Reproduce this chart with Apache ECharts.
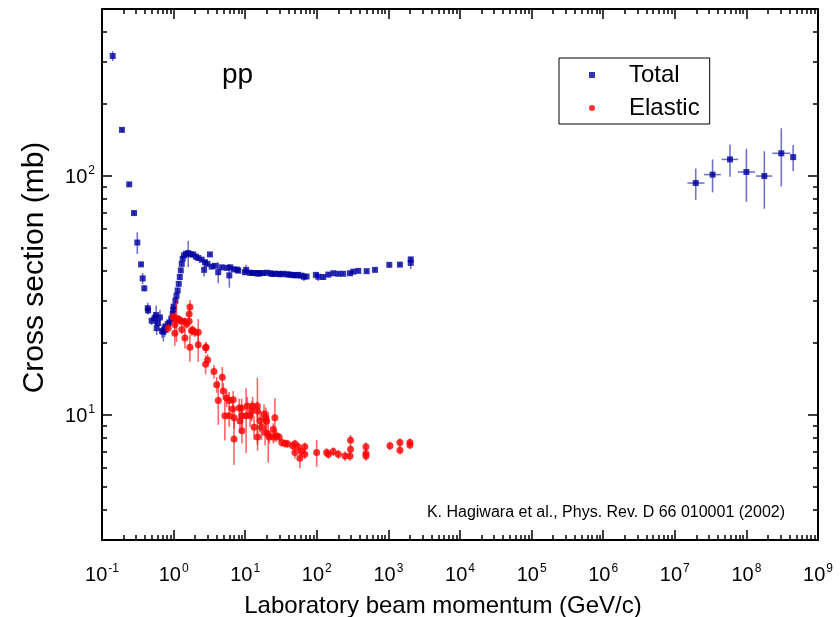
<!DOCTYPE html>
<html><head><meta charset="utf-8">
<script src="https://cdn.jsdelivr.net/npm/echarts@6/dist/echarts.min.js"></script>
<style>html,body{margin:0;padding:0;background:#fff}#c{width:840px;height:617px}</style>
</head><body><div id="c"></div>
<script>
const FONT = '"Liberation Sans", Arial, sans-serif';

// ---- Total cross section (accelerator data) ----
const totalP = [0.141,0.19,0.24,0.28,0.311,0.351,0.37,0.39,0.435,0.44,0.494,0.544,0.57,0.58,0.60,0.645,0.69,0.72,0.75,0.78,0.83,0.87,0.93,0.97,0.99,1.00,1.06,1.10,1.14,1.18,1.22,1.26,1.30,1.34,1.40,1.49,1.60,1.73,1.88,2.05,2.21,2.46,2.67,2.75,2.96,3.22,3.40,3.79,4.20,4.69,5.5,6.0,6.2,6.9,7.76,8.0,9.9,10.3,11.7,12.3,13.2,14.5,15.3,16.1,17.8,20,22.5,24,26,29,31,34,38,41,44.5,48,51,55,60,66,72,97,105,123,145,170,200,234,291,323,380,497,650,1030,1450,2050,2050];
const totalSigma = [318,156,92.3,70.0,52.7,42.7,37.3,33.9,28.0,27.4,24.8,25.5,26.2,23.1,24.3,25.6,22.5,22.3,22.7,23.3,24.0,24.4,25.3,26.5,27.6,28.4,30.1,31.6,33.2,35.4,37.8,40.3,42.9,45.1,46.6,47.3,47.6,47.0,47.0,46.0,45.4,44.7,40.5,43.6,42.9,47.0,41.8,42.1,39.6,41.5,41.3,38.4,41.5,40.7,40.6,40.2,39.6,40.5,39.4,39.3,39.3,39.2,39.1,39.2,39.3,39.4,39.2,38.9,39.0,39.0,38.8,39.0,38.8,38.7,38.6,38.5,38.4,38.6,38.3,37.9,38.0,38.6,37.9,37.8,38.7,39.2,39.0,39.0,39.2,39.8,40.1,40.0,40.5,42.5,42.6,43.3,44.8];
const totalErr = [15,3,2,1.5,5.5,1,2,1,1.5,1,1,1.5,2.5,1.5,1,2,1.5,2,1.5,1,1,1,1,1,1,1,1,1,1,1,1,1,1,1,1,1,6,1,1,1,1,1,2.5,1,1,0.8,1,1,4,1,1,4.3,1,0.8,0.8,0.8,0.8,2,0.6,0.6,0.6,0.6,0.6,0.6,0.6,0.6,0.6,0.6,0.6,0.6,0.6,0.6,0.6,0.6,0.6,0.6,0.6,0.6,0.6,1.5,0.6,1,1.5,1,1,0.8,0.8,0.8,0.8,0.8,0.8,0.6,0.6,0.8,0.8,2.5,1];

// ---- Total cross section (cosmic ray data, with momentum ranges) ----
const cosmicP = [1.96e7,3.37e7,5.9e7,1.0e8,1.78e8,3.07e8,4.5e8];
const cosmicSigma = [93.5,101.4,117.4,104,100,124.5,120];
const cosmicErr = [14,16,18,26,27,34,15];
const cosmicPLow = [1.5e7,2.56e7,4.5e7,7.6e7,1.36e8,2.3e8,4.5e8];
const cosmicPHigh = [2.6e7,4.4e7,7.7e7,1.32e8,2.3e8,4.1e8,4.5e8];

// ---- Elastic cross section ----
const elasticP = [0.84,0.99,1.01,1.04,1.04,1.10,1.17,1.21,1.30,1.30,1.44,1.44,1.52,1.65,1.65,1.69,1.69,1.78,1.84,1.99,2.21,2.21,2.80,2.84,2.80,2.99,3.66,4.0,4.79,4.21,4.94,5.5,5.2,5.97,5.97,6.8,6.7,7.0,6.98,8.25,8.45,8.9,9.0,9.0,10.7,10.3,11.7,12.3,12.7,13.3,14.8,14.8,14.9,16.1,16.9,18.3,19.4,19.9,19.0,21.0,21.7,24.7,26.0,24.7,27.3,29.8,32.4,36,39,46,49.5,49.5,55,58,61,68,68,99.5,137,145,170,200,248,291,296,296,486,486,486,1050,1450,1450,2000,2000];
const elasticSigma = [23.1,25.6,25.8,23.9,22.0,25.2,25.2,24.9,24.7,22.8,24.6,21.0,24.0,24.7,26.5,28.3,19.2,22.5,22.7,22.2,22.2,19.7,19.1,19.2,16.3,17.0,15.2,13.4,14.4,11.5,12.6,11.8,9.93,9.93,11.5,11.6,10.6,9.75,7.93,10.7,9.44,10.7,9.93,8.6,10.9,9.93,9.93,10.4,10.9,8.88,10.9,10.4,8.1,9.46,8.88,10.1,9.75,9.44,8.45,8.32,8.1,8.73,9.75,8.1,8.2,8.1,7.67,7.6,7.58,7.43,7.58,6.97,7.37,6.59,7.03,7.37,6.85,6.97,6.97,6.85,7.03,6.85,6.74,6.74,7.2,7.85,7.37,6.9,6.74,7.43,7.67,7.13,7.67,7.5];
const elasticErr = [1,1,1,1,2.5,5,1,1,1,1,1,2,1,1,1,2,2.5,1,1,1,3,3,1,1,1.5,1,1,1,1.5,2.4,1,1,2.1,1,1,1,1,1,1.75,1,1,1,1,1,1,3,1,1,1,1,3.4,1,1,1,1,1,1,1,1,2,0.5,0.5,2,0.5,0.5,0.3,0.3,0.3,0.3,0.3,0.3,0.4,0.3,0.6,0.3,0.3,0.3,0.9,0.3,0.3,0.3,0.3,0.3,0.3,0.3,0.4,0.3,0.4,0.3,0.3,0.3,0.3,0.3,0.3];

// ---- Axis ticks ----
const xMajorTicks = [0.1,1,10,100,1e3,1e4,1e5,1e6,1e7,1e8,1e9];
const yMajorTicks = [10,100];
const yMinorTicks = [4,5,6,7,8,9,20,30,40,50,60,70,80,90,200,300,400];

const texts = {
  xTitle: 'Laboratory beam momentum (GeV/c)',
  yTitle: 'Cross section (mb)',
  reaction: 'pp',
  citation: 'K. Hagiwara et al., Phys. Rev. D 66 010001 (2002)'
};

// ---- build series data ----
const totalPoints = totalP.map((p,i)=>[p,totalSigma[i]]).concat(cosmicP.map((p,i)=>[p,cosmicSigma[i]]));
const totalErrData = totalP.map((p,i)=>[p,totalSigma[i],totalErr[i],p,p])
  .concat(cosmicP.map((p,i)=>[p,cosmicSigma[i],cosmicErr[i],cosmicPLow[i],cosmicPHigh[i]]));
const elasticPoints = elasticP.map((p,i)=>[p,elasticSigma[i]]);
const elasticErrData = elasticP.map((p,i)=>[p,elasticSigma[i],elasticErr[i],p,p]);

function errRender(color){
  return function(params, api){
    const x = api.value(0), y = api.value(1), e = api.value(2), xl = api.value(3), xh = api.value(4);
    const a = api.coord([x, y+e]);
    const b = api.coord([x, Math.max(y-e, 0.5)]);
    const ch = [{type:'line', shape:{x1:a[0],y1:a[1],x2:b[0],y2:b[1]}, style:{stroke:color,lineWidth:1.6}}];
    if (xh > xl) {
      const l = api.coord([xl,y]), r = api.coord([xh,y]);
      ch.push({type:'line', shape:{x1:l[0],y1:l[1],x2:r[0],y2:r[1]}, style:{stroke:color,lineWidth:1.6}});
    }
    return {type:'group', children: ch};
  };
}

function powLabel(v){
  const e = Math.round(Math.log10(v));
  return '{b|10}{s|' + e + '}';
}
const richLabel = {
  b:{fontSize:20, fontFamily:FONT, color:'#000', lineHeight:22, verticalAlign:'bottom'},
  s:{fontSize:12, fontFamily:FONT, color:'#000', lineHeight:22, verticalAlign:'top', padding:[0,0,0,1]}
};
const lineStyle = {color:'#000', width:2};
const noLine = {color:'rgba(0,0,0,0)', width:0};

function xAx(pos, showLabel){
  return {
    type:'log', logBase:10, min:0.1, max:1e9, position:pos,
    axisLine:{show:true, onZero:false, lineStyle: lineStyle},
    axisTick:{show:true, inside:true, length:10, customValues:xMajorTicks, lineStyle:{color:'#000', width:1.5}},
    minorTick:{show:true, splitNumber:9, length:5, lineStyle:{color:'#000', width:1.5}},
    axisLabel:{show:showLabel, inside:false, customValues:xMajorTicks, formatter:powLabel, rich:richLabel, margin:23},
    splitLine:{show:false}, minorSplitLine:{show:false},
    name: showLabel ? texts.xTitle : '',
    nameLocation:'middle', nameGap:54,
    nameTextStyle:{fontSize:24, fontFamily:FONT, color:'#000', padding:[0,34,0,0]}
  };
}
function yAx(pos, major, showLabel){
  return {
    type:'log', logBase:10, min:3, max:500, position:pos,
    axisLine:{show:true, onZero:false, lineStyle: major ? lineStyle : noLine},
    axisTick:{show:true, inside:true, length: major?10:5, customValues: major?yMajorTicks:yMinorTicks, lineStyle:{color:'#000', width:1.5}},
    axisLabel:{show:showLabel, customValues: major?yMajorTicks:yMinorTicks, formatter:powLabel, rich:richLabel, margin:7},
    splitLine:{show:false}, minorTick:{show:false},
    name: (major && showLabel) ? texts.yTitle : '',
    nameLocation:'middle', nameGap:52,
    nameTextStyle:{fontSize:30, fontFamily:FONT, color:'#000', padding:[0,0,0,14]}
  };
}

const chart = echarts.init(document.getElementById('c'), null, {renderer:'canvas'});
chart.setOption({
  animation:false,
  backgroundColor:'#fff',
  textStyle:{fontFamily:FONT},
  grid:{left:102, top:9, width:716, height:531, containLabel:false, outerBoundsMode:'none'},
  xAxis:[xAx('bottom',true), xAx('top',false)],
  yAxis:[yAx('left',true,true), yAx('right',true,false), yAx('left',false,false), yAx('right',false,false)],
  legend:{
    show:true, orient:'vertical', left:559, top:58,
    padding:[4,10,3,30], itemGap:7, itemWidth:6, itemHeight:6,
    borderColor:'#000', borderWidth:1, backgroundColor:'#fff',
    textStyle:{fontSize:24, fontFamily:FONT, color:'#000', lineHeight:26, padding:[0,0,0,29]},
    data:[{name:'Total', icon:'rect'},{name:'Elastic', icon:'circle'}],
    selectedMode:false
  },
  graphic:[
    {type:'text', x:222, y:61, style:{text:texts.reaction, fontSize:28, fontFamily:FONT, fill:'#000', verticalAlign:'top'}},
    {type:'text', x:785, y:513, style:{text:texts.citation, fontSize:16, fontFamily:FONT, fill:'#000', align:'right', verticalAlign:'middle'}}
  ],
  series:[
    {type:'custom', name:'TotalErr', xAxisIndex:0, yAxisIndex:0, clip:true, z:1, silent:true,
     renderItem: errRender('rgba(0,0,160,0.55)'), data: totalErrData, encode:{x:0,y:1}},
    {type:'scatter', name:'Total', xAxisIndex:0, yAxisIndex:0, z:2, symbol:'rect', symbolSize:6,
     itemStyle:{color:'#0000a0'}, data: totalPoints},
    {type:'custom', name:'ElasticErr', xAxisIndex:0, yAxisIndex:0, clip:true, z:3, silent:true,
     renderItem: errRender('rgba(255,0,0,0.6)'), data: elasticErrData, encode:{x:0,y:1}},
    {type:'scatter', name:'Elastic', xAxisIndex:0, yAxisIndex:0, z:4, symbol:'circle', symbolSize:7,
     itemStyle:{color:'#ff0000'}, data: elasticPoints}
  ]
});
</script></body></html>
